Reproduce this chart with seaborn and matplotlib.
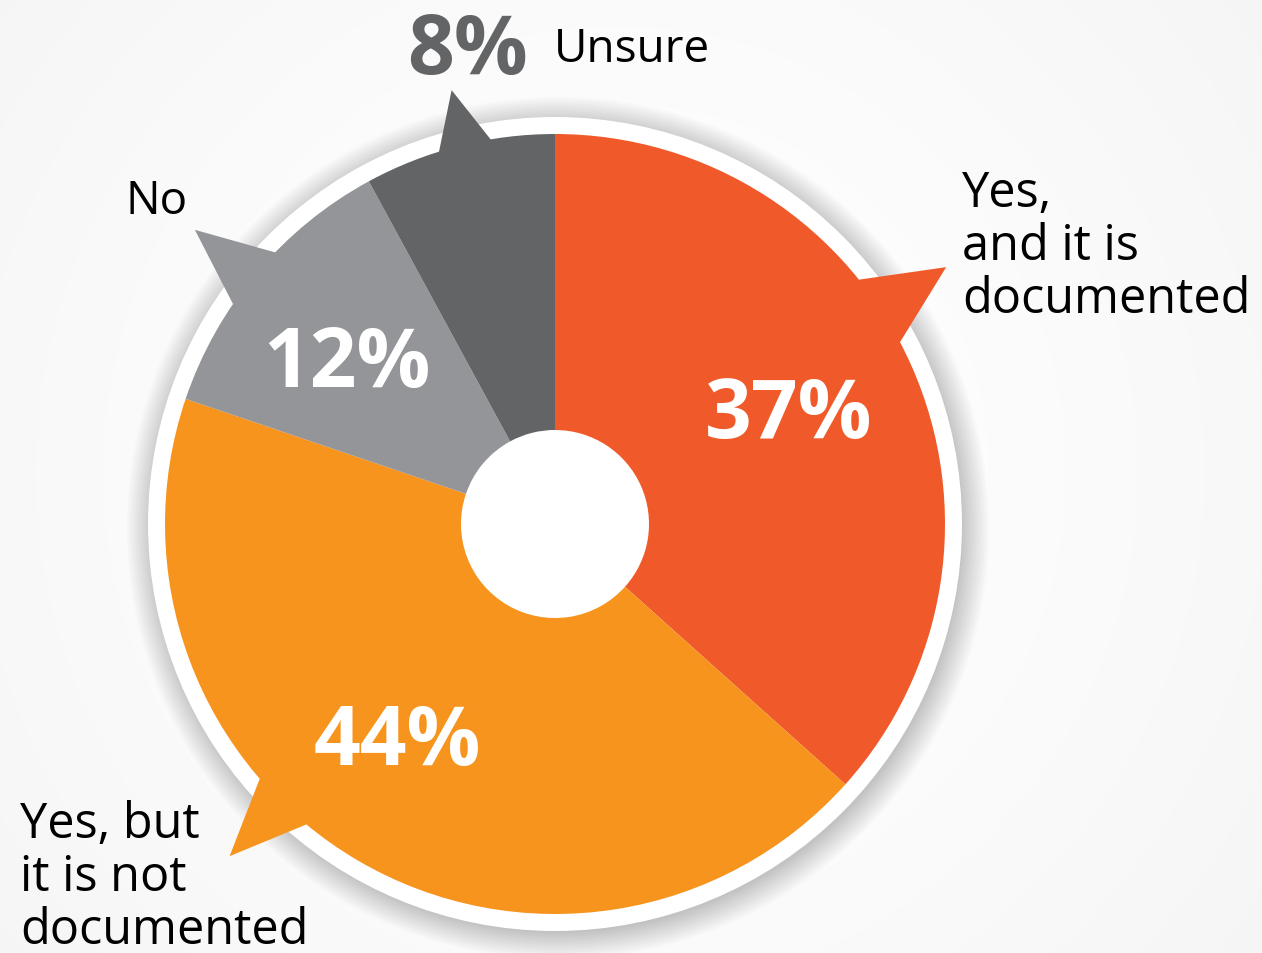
import numpy as np
import matplotlib
matplotlib.use("Agg")
import matplotlib.pyplot as plt
from matplotlib.patches import Polygon, Circle
import seaborn as sns

# ---- data ----
categories = ["Yes, and it is documented", "Yes, but it is not documented", "No", "Unsure"]
values = [37, 44, 12, 8]
pct_labels = ["37%", "44%", "12%", "8%"]
cat_labels = ["Yes,\nand it is\ndocumented", "Yes, but\nit is not\ndocumented", "No", "Unsure"]
colors = ["#F05A2A", "#F7941E", "#939598", "#636466"]

sns.set_theme(style="white")
plt.rcParams['font.family'] = ['Open Sans', 'DejaVu Sans']

W, H = 1262, 954
fig = plt.figure(figsize=(W / 100, H / 100), dpi=100)
ax = fig.add_axes([0, 0, 1, 1])

# background: soft radial gradient
yy, xx = np.mgrid[0:H, 0:W]
d = np.sqrt((xx - 620) ** 2 + (yy - 480) ** 2) / 900.0
bg = 1.0 - 0.045 * np.clip(d, 0, 1) ** 1.5
ax.imshow(np.dstack([bg, bg, bg]), extent=[0, W, 0, H], origin="lower", zorder=0)

cx, cy, R = 555, 429, 390
R_white = 407
# soft shadow + white ring
for i in range(14):
    ax.add_patch(Circle((cx + 3, cy - 4), R_white + 24 - i * 2, color="black",
                        alpha=0.017, lw=0, zorder=1))
ax.add_patch(Circle((cx, cy), R_white, color="white", lw=0, zorder=2))

wedges, _ = ax.pie(values, colors=colors, startangle=90, counterclock=False,
                   center=(cx, cy), radius=R,
                   wedgeprops=dict(width=R - 94, linewidth=0))
for w in wedges:
    w.set_zorder(4)

ax.set_xlim(0, W)
ax.set_ylim(0, H)
ax.set_aspect("equal")
ax.axis("off")

# pointer bubbles (position within each wedge, half width deg, tip radius)
ptr_frac = [0.43, 0.59, 0.48, 0.53]
ptr_half = [5.5, 4.8, 4.9, 3.9]
ptr_tip = [468, 465, 465, 446]
for w, f, hw, rt, c in zip(wedges, ptr_frac, ptr_half, ptr_tip, colors):
    t1, t2 = w.theta1, w.theta2
    ang = t2 - f * (t2 - t1)
    a0, a1 = np.radians(ang - hw), np.radians(ang + hw)
    at = np.radians(ang)
    ri = R - 30
    pts = [(cx + ri * np.cos(a0), cy + ri * np.sin(a0)),
           (cx + R * np.cos(a0), cy + R * np.sin(a0)),
           (cx + rt * np.cos(at), cy + rt * np.sin(at)),
           (cx + R * np.cos(a1), cy + R * np.sin(a1)),
           (cx + ri * np.cos(a1), cy + ri * np.sin(a1))]
    ax.add_patch(Polygon(pts, closed=True, color=c, lw=0, zorder=3))

# percentage labels inside
big = dict(fontsize=59, fontweight="bold", ha="center", va="baseline", zorder=6)
ax.text(789, H - 438, pct_labels[0], color="white", **big)
ax.text(397, H - 765, pct_labels[1], color="white", **big)
ax.text(347, H - 387, pct_labels[2], color="white", **big)
ax.text(467, H - 74, pct_labels[3], color="#636466", **big)

# category labels
ax.text(554, H - 62, cat_labels[3], color="black", fontsize=33, ha="left", va="baseline", zorder=6)
ax.text(125, H - 214, cat_labels[2], color="black", fontsize=33, ha="left", va="baseline", zorder=6)
ax.text(962, H - 313, cat_labels[0], color="black", fontsize=35, ha="left", va="baseline",
        linespacing=1.09, zorder=6)
ax.text(20, H - 944, cat_labels[1], color="black", fontsize=35, ha="left", va="baseline",
        linespacing=1.09, zorder=6)

fig.savefig("out.png", dpi=100)
